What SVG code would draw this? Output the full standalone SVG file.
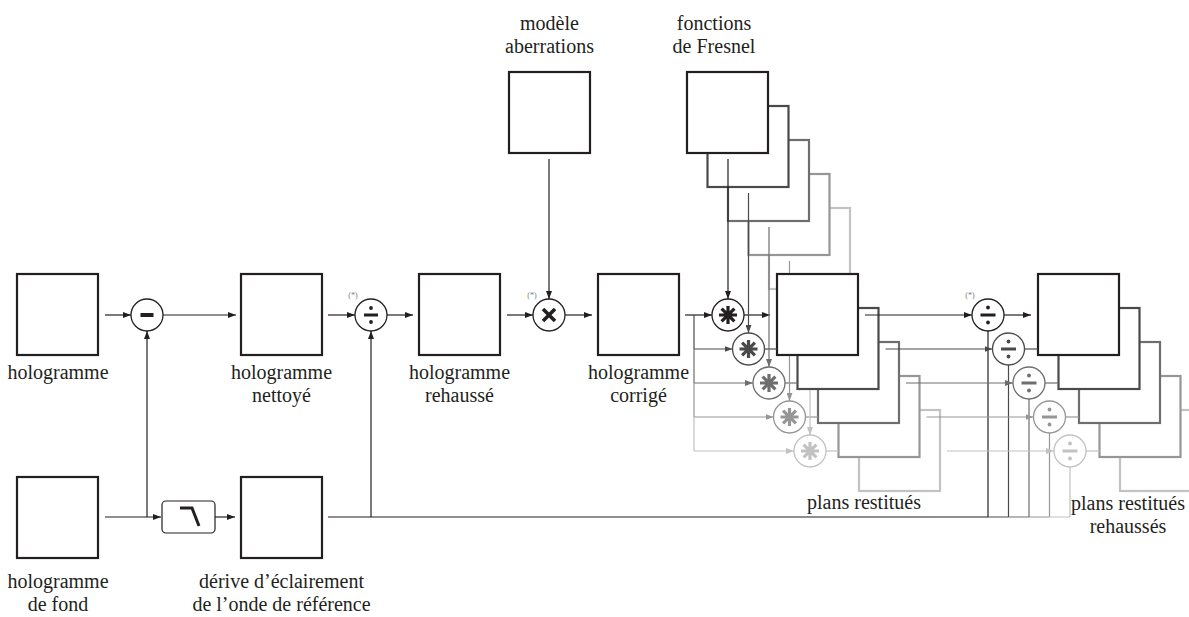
<svg xmlns="http://www.w3.org/2000/svg" width="1189" height="617" viewBox="0 0 1189 617">
<style>
.box{fill:#fff;stroke-width:2.2}
.circ{fill:#fff;stroke-width:1.3}
.c1{stroke:#231f20}.c2{stroke:#4a4a4a}.c3{stroke:#6e6e6e}.c4{stroke:#969696}.c5{stroke:#c2c2c2}
.f1{fill:#231f20}.f2{fill:#4a4a4a}.f3{fill:#6e6e6e}.f4{fill:#969696}.f5{fill:#c2c2c2}
.lbl{font-family:"Liberation Serif","DejaVu Serif",serif;font-size:20px;text-anchor:middle;fill:#231f20}
.ast{font-family:"Liberation Serif",serif;font-size:8px;text-anchor:middle;fill:#777}
.sym{fill:none;stroke-linecap:butt}
</style>
<defs>
<marker id="a1" viewBox="0 0 8 6" refX="8" refY="3" markerWidth="8" markerHeight="6" orient="auto" markerUnits="userSpaceOnUse"><path d="M0,0L8,3L0,6z" fill="#231f20"/></marker>
<marker id="a2" viewBox="0 0 8 6" refX="8" refY="3" markerWidth="8" markerHeight="6" orient="auto" markerUnits="userSpaceOnUse"><path d="M0,0L8,3L0,6z" fill="#4a4a4a"/></marker>
<marker id="a3" viewBox="0 0 8 6" refX="8" refY="3" markerWidth="8" markerHeight="6" orient="auto" markerUnits="userSpaceOnUse"><path d="M0,0L8,3L0,6z" fill="#6e6e6e"/></marker>
<marker id="a4" viewBox="0 0 8 6" refX="8" refY="3" markerWidth="8" markerHeight="6" orient="auto" markerUnits="userSpaceOnUse"><path d="M0,0L8,3L0,6z" fill="#969696"/></marker>
<marker id="a5" viewBox="0 0 8 6" refX="8" refY="3" markerWidth="8" markerHeight="6" orient="auto" markerUnits="userSpaceOnUse"><path d="M0,0L8,3L0,6z" fill="#c2c2c2"/></marker>
<g id="astsym"><path d="M-9,0H9M0,-9V9M-6.4,-6.4L6.4,6.4M-6.4,6.4L6.4,-6.4" stroke-width="3.2"/></g>
</defs>

<!-- left part -->
<g id="n-holo"><rect class="box c1" x="17" y="274" width="81" height="81"/><text class="lbl" x="58" y="379">hologramme</text></g>
<g id="n-minus"><circle class="circ c1" cx="147" cy="315" r="16"/><rect class="f1" x="140.5" y="313" width="13" height="4"/></g>
<g id="n-nettoye"><rect class="box c1" x="241" y="274" width="81" height="81"/><text class="lbl" x="281.5" y="379">hologramme</text><text class="lbl" x="281.5" y="402">nettoyé</text></g>
<g id="n-div0"><circle class="circ c1" cx="371" cy="315" r="16"/><rect class="f1" x="364" y="313.5" width="14" height="3"/><circle class="f1" cx="371" cy="308" r="1.9"/><circle class="f1" cx="371" cy="322" r="1.9"/><text class="ast" x="353" y="298">(*)</text></g>
<g id="n-rehausse"><rect class="box c1" x="419" y="274" width="81" height="81"/><text class="lbl" x="459.5" y="379">hologramme</text><text class="lbl" x="459.5" y="402">rehaussé</text></g>
<g id="n-modele"><rect class="box c1" x="509" y="72" width="81" height="81"/><text class="lbl" x="549.5" y="30">modèle</text><text class="lbl" x="549.5" y="53">aberrations</text></g>
<g id="n-times"><circle class="circ c1" cx="549" cy="315" r="16"/><path class="sym c1" d="M543,309L555,321M543,321L555,309" stroke-width="3.6"/><text class="ast" x="532" y="298">(*)</text></g>
<g id="n-corrige"><rect class="box c1" x="598" y="274" width="81" height="81"/><text class="lbl" x="638.5" y="379">hologramme</text><text class="lbl" x="638.5" y="402">corrigé</text></g>
<g id="n-fond"><rect class="box c1" x="17" y="477" width="81" height="81"/><text class="lbl" x="58" y="588">hologramme</text><text class="lbl" x="58" y="611">de fond</text></g>
<g id="n-filter"><rect x="162" y="501" width="53" height="32" rx="4" fill="#fff" stroke="#231f20" stroke-width="1.2"/><path d="M180,508H192L199,526" fill="none" stroke="#231f20" stroke-width="3"/></g>
<g id="n-derive"><rect class="box c1" x="241" y="477" width="81" height="81"/><text class="lbl" x="281.5" y="588">dérive d’éclairement</text><text class="lbl" x="281.5" y="611">de l’onde de référence</text></g>

<!-- Fresnel stack (back to front) -->
<g id="n-fresnel">
<rect class="box c5" x="769" y="208" width="81" height="81"/>
<rect class="box c4" x="748.5" y="174" width="81" height="81"/>
<rect class="box c3" x="728" y="140" width="81" height="81"/>
<rect class="box c2" x="707.5" y="106" width="81" height="81"/>
<rect class="box c1" x="687" y="72" width="81" height="81"/>
<text class="lbl" x="714" y="30">fonctions</text><text class="lbl" x="714" y="53">de Fresnel</text>
</g>

<!-- convolution circles -->
<g id="n-conv1"><circle class="circ c1" cx="728" cy="315" r="16"/><use href="#astsym" x="728" y="315" class="c1"/></g>
<g id="n-conv2"><circle class="circ c2" cx="748.5" cy="349" r="16"/><use href="#astsym" x="748.5" y="349" class="c2"/></g>
<g id="n-conv3"><circle class="circ c3" cx="769" cy="383" r="16"/><use href="#astsym" x="769" y="383" class="c3"/></g>
<g id="n-conv4"><circle class="circ c4" cx="789.5" cy="417" r="16"/><use href="#astsym" x="789.5" y="417" class="c4"/></g>
<g id="n-conv5"><circle class="circ c5" cx="810" cy="451" r="16"/><use href="#astsym" x="810" y="451" class="c5"/></g>

<!-- restitues stack -->
<g id="n-restitues">
<rect class="box c5" x="859" y="410" width="81" height="81"/>
<rect class="box c4" x="838.5" y="376" width="81" height="81"/>
<rect class="box c3" x="818" y="342" width="81" height="81"/>
<rect class="box c2" x="797.5" y="308" width="81" height="81"/>
<rect class="box c1" x="777" y="274" width="81" height="81"/>
<text class="lbl" x="864" y="509">plans restitués</text>
</g>

<!-- division circles -->
<g id="n-div1"><circle class="circ c1" cx="988" cy="315" r="16"/><rect class="f1" x="980.5" y="313.5" width="15" height="3"/><circle class="f1" cx="988" cy="307.5" r="1.9"/><circle class="f1" cx="988" cy="322.5" r="1.9"/><text class="ast" x="970" y="298">(*)</text></g>
<g id="n-div2"><circle class="circ c2" cx="1008.5" cy="349" r="16"/><rect class="f2" x="1001" y="347.5" width="15" height="3"/><circle class="f2" cx="1008.5" cy="341.5" r="1.9"/><circle class="f2" cx="1008.5" cy="356.5" r="1.9"/></g>
<g id="n-div3"><circle class="circ c3" cx="1029" cy="383" r="16"/><rect class="f3" x="1021.5" y="381.5" width="15" height="3"/><circle class="f3" cx="1029" cy="375.5" r="1.9"/><circle class="f3" cx="1029" cy="390.5" r="1.9"/></g>
<g id="n-div4"><circle class="circ c4" cx="1049.5" cy="417" r="16"/><rect class="f4" x="1042" y="415.5" width="15" height="3"/><circle class="f4" cx="1049.5" cy="409.5" r="1.9"/><circle class="f4" cx="1049.5" cy="424.5" r="1.9"/></g>
<g id="n-div5"><circle class="circ c5" cx="1070" cy="451" r="16"/><rect class="f5" x="1062.5" y="449.5" width="15" height="3"/><circle class="f5" cx="1070" cy="443.5" r="1.9"/><circle class="f5" cx="1070" cy="458.5" r="1.9"/></g>

<!-- rehausses stack -->
<g id="n-rehausses">
<rect class="box c5" x="1120" y="410" width="81" height="81"/>
<rect class="box c4" x="1099.5" y="376" width="81" height="81"/>
<rect class="box c3" x="1079" y="342" width="81" height="81"/>
<rect class="box c2" x="1058.5" y="308" width="81" height="81"/>
<rect class="box c1" x="1038" y="274" width="81" height="81"/>
<text class="lbl" x="1128" y="510">plans restitués</text><text class="lbl" x="1128" y="533">rehaussés</text>
</g>

<g id="connectors" fill="none" stroke-width="1.2">
<g class="c1">
<path d="M105,315H131" marker-end="url(#a1)"/>
<path d="M163,315H236" marker-end="url(#a1)"/>
<path d="M328,315H355" marker-end="url(#a1)"/>
<path d="M387,315H413" marker-end="url(#a1)"/>
<path d="M507,315H533" marker-end="url(#a1)"/>
<path d="M565,315H592" marker-end="url(#a1)"/>
<path d="M549,159V299" marker-end="url(#a1)"/>
<path d="M105,517H161" marker-end="url(#a1)"/>
<path d="M147,517V331" marker-end="url(#a1)"/>
<path d="M215,517H235" marker-end="url(#a1)"/>
<path d="M328,517H988"/>
<path d="M371,517V331" marker-end="url(#a1)"/>
<path d="M685,315H712" marker-end="url(#a1)"/>
<path d="M728,159V299" marker-end="url(#a1)"/>
<path d="M744,315H770" marker-end="url(#a1)"/>
<path d="M865,315H972" marker-end="url(#a1)"/>
<path d="M988,517V331"/>
<path d="M1004,315H1031" marker-end="url(#a1)"/>
</g>
<g class="c2">
<path d="M694,315V349"/>
<path d="M694,349H732.5" marker-end="url(#a2)"/>
<path d="M748.5,193V333" marker-end="url(#a2)"/>
<path d="M764.5,349H777"/>
<path d="M885.5,349H992.5" marker-end="url(#a2)"/>
<path d="M988,517H1008.5M1008.5,517V365"/>
<path d="M1024.5,349H1038"/>
</g>
<g class="c3">
<path d="M694,349V383"/>
<path d="M694,383H753" marker-end="url(#a3)"/>
<path d="M769,227V367" marker-end="url(#a3)"/>
<path d="M785,383H797.5"/>
<path d="M906,383H1013" marker-end="url(#a3)"/>
<path d="M1008.5,517H1029M1029,517V399"/>
<path d="M1045,383H1058.5"/>
</g>
<g class="c4">
<path d="M694,383V417"/>
<path d="M694,417H773.5" marker-end="url(#a4)"/>
<path d="M789.5,261V273"/>
<path d="M789.5,356V401" marker-end="url(#a4)"/>
<path d="M805.5,417H818"/>
<path d="M926.5,417H1033.5" marker-end="url(#a4)"/>
<path d="M1029,517H1049.5M1049.5,517V433"/>
<path d="M1065.5,417H1079"/>
</g>
<g class="c5">
<path d="M694,417V451"/>
<path d="M694,451H794" marker-end="url(#a5)"/>
<path d="M810,390V435" marker-end="url(#a5)"/>
<path d="M826,451H838.5"/>
<path d="M947,451H1054" marker-end="url(#a5)"/>
<path d="M1049.5,517H1070M1070,517V467"/>
<path d="M1086,451H1099.5"/>
</g>
</g>
</svg>
